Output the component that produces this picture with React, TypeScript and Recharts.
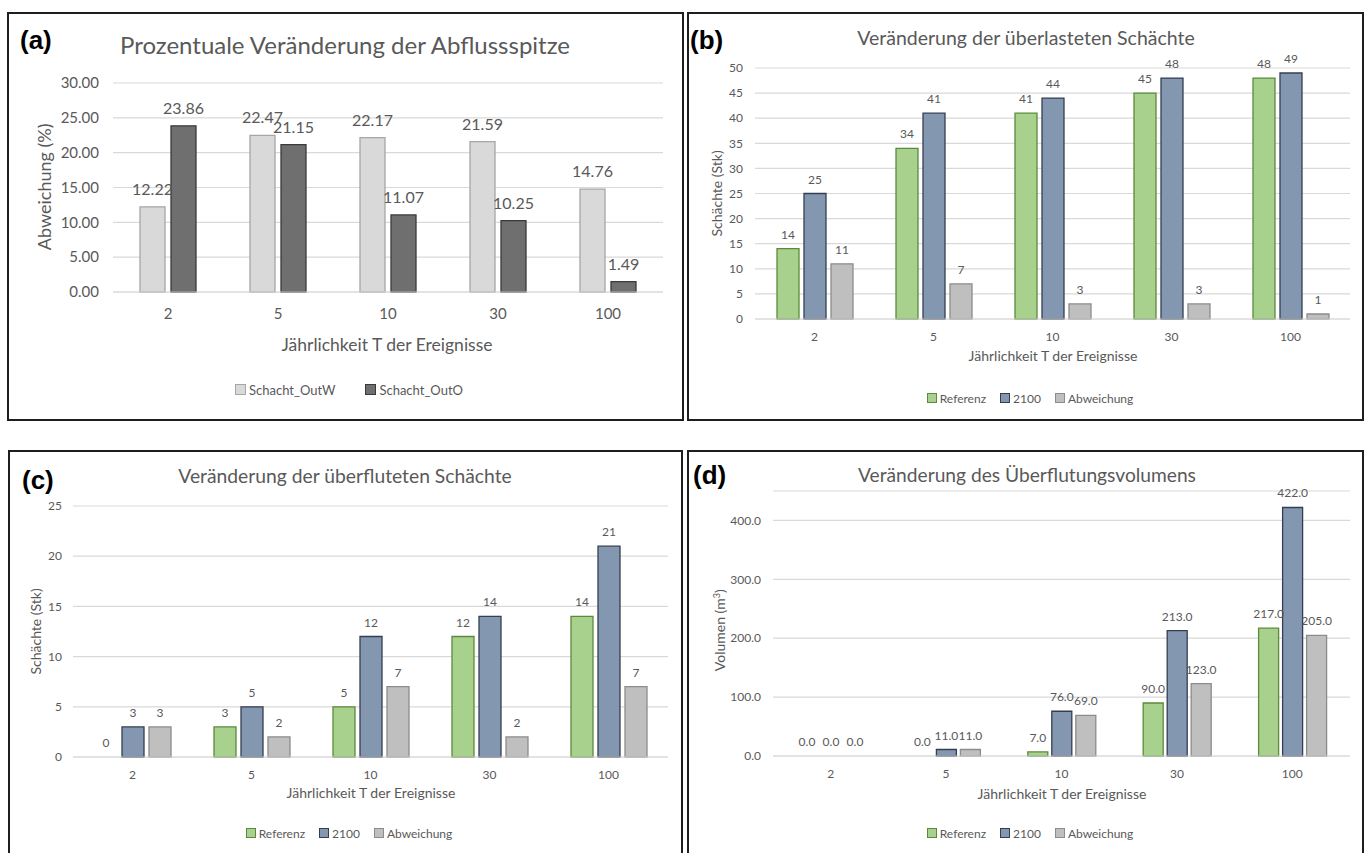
import type { ReactNode } from 'react'
import { BarChart, Bar, XAxis, YAxis, CartesianGrid, LabelList, Rectangle } from 'recharts'

// Jährlichkeit T der Ereignisse (categories shared by all four panels)
const jaehrlichkeit = ['2', '5', '10', '30', '100']

// (a) Prozentuale Veränderung der Abflussspitze
const outW = [12.22, 22.47, 22.17, 21.59, 14.76]
const outO = [23.86, 21.15, 11.07, 10.25, 1.49]
const ticksA = [0, 5, 10, 15, 20, 25, 30]

// (b) überlastete Schächte
const ueberlastetRef = [14, 34, 41, 45, 48]
const ueberlastet2100 = [25, 41, 44, 48, 49]
const ueberlastetDiff = [11, 7, 3, 3, 1]
const ticksB = [0, 5, 10, 15, 20, 25, 30, 35, 40, 45, 50]

// (c) überflutete Schächte
const ueberflutetRef = [0, 3, 5, 12, 14]
const ueberflutet2100 = [3, 5, 12, 14, 21]
const ueberflutetDiff = [3, 2, 7, 2, 7]
const ticksC = [0, 5, 10, 15, 20, 25]

// (d) Überflutungsvolumen in m³
const volumenRef = [0, 0, 7, 90, 217]
const volumen2100 = [0, 11, 76, 213, 422]
const volumenDiff = [0, 11, 69, 123, 205]
const ticksD = [0, 100, 200, 300, 400]

const TEXT = '#595959'
const GRID = '#d9d9d9'
const FONT = 'Lato, "Open Sans", sans-serif'

interface Series {
  name: string
  values: number[]
  fill: string
  stroke: string
}

const green = { fill: '#a9d18e', stroke: '#5b8a3a' }
const blue = { fill: '#8497b0', stroke: '#333f50' }
const grey = { fill: '#bfbfbf', stroke: '#8c8c8c' }

interface PanelProps {
  letter: string
  letterX: number
  letterY: number
  title: string
  titleSize: number
  titleX: number
  titleY: number
  yTitle: ReactNode
  yTitleX: number
  yTitleY: number
  yTitleSize: number
  xTitleX: number
  xTitleY: number
  xTitleSize: number
  legendX: number
  legendY: number
  legendSize: number
  legendSquare: number
  legendGap: number
  box: { x: number; y: number; w: number; h: number }
  plot: { l: number; r: number; t: number; b: number }
  series: Series[]
  domain: [number, number]
  ticks: number[]
  decimals: number
  barSize: number
  barGap: number
  tickSize: number
  yTickMargin: number
  xTickMargin: number
  labelSize: number
  labelOffset: number
}

// centred text line, placed by its middle point
function Txt({ cx, cy, size, children }: { cx: number; cy: number; size: number; children: ReactNode }) {
  return (
    <div
      style={{
        position: 'absolute',
        left: cx - 400,
        top: cy - size * 0.6,
        width: 800,
        lineHeight: `${size * 1.2}px`,
        fontSize: size,
        textAlign: 'center',
        whiteSpace: 'nowrap',
        color: TEXT,
        fontFamily: FONT,
      }}
    >
      {children}
    </div>
  )
}

// zero values get a hair-thin bar so the "0" label still shows, but no visible rect
const hairline = (v: unknown) => (Number(v) === 0 ? 0.001 : 0)
const BarShape = (props: any) => (props.height > 0.5 ? <Rectangle {...props} /> : <g />)

function Panel(p: PanelProps) {
  const yAxisWidth = 50
  const xAxisHeight = 30
  const data = jaehrlichkeit.map((cat, i) => {
    const row: Record<string, string | number> = { cat }
    p.series.forEach((s, k) => { row['s' + k] = s.values[i] })
    return row
  })
  const fmt = (v: unknown) => Number(v).toFixed(p.decimals)

  return (
    <>
      <div style={{ position: 'absolute', left: p.box.x, top: p.box.y }}>
        <BarChart
          width={p.box.w}
          height={p.box.h}
          data={data}
          barSize={p.barSize}
          barGap={p.barGap}
          margin={{
            left: p.plot.l - p.box.x - yAxisWidth,
            right: p.box.x + p.box.w - p.plot.r,
            top: p.plot.t - p.box.y,
            bottom: p.box.y + p.box.h - p.plot.b - xAxisHeight,
          }}
        >
          <CartesianGrid vertical={false} stroke={GRID} strokeWidth={1.2} />
          <XAxis
            dataKey="cat"
            height={xAxisHeight}
            tickLine={false}
            axisLine={{ stroke: GRID, strokeWidth: 1.2 }}
            tick={{ fill: TEXT, fontSize: p.tickSize }}
            tickMargin={p.xTickMargin}
          />
          <YAxis
            width={yAxisWidth}
            domain={p.domain}
            ticks={p.ticks}
            interval={0}
            tickLine={false}
            axisLine={false}
            tick={{ fill: TEXT, fontSize: p.tickSize }}
            tickMargin={p.yTickMargin}
            tickFormatter={fmt}
          />
          {p.series.map((s, k) => (
            <Bar
              key={s.name}
              dataKey={'s' + k}
              name={s.name}
              fill={s.fill}
              stroke={s.stroke}
              strokeWidth={1.3}
              minPointSize={hairline}
              shape={BarShape}
              isAnimationActive={false}
            >
              <LabelList
                dataKey={'s' + k}
                position="top"
                offset={p.labelOffset}
                fill={TEXT}
                fontSize={p.labelSize}
                formatter={fmt}
              />
            </Bar>
          ))}
        </BarChart>
      </div>

      {/* panel letter */}
      <div
        style={{
          position: 'absolute',
          left: p.letterX,
          top: p.letterY - 15,
          lineHeight: '30px',
          fontSize: 26,
          fontWeight: 'bold',
          fontFamily: '"Liberation Sans", Arial, sans-serif',
          color: '#000',
        }}
      >
        {p.letter}
      </div>

      <Txt cx={p.titleX} cy={p.titleY} size={p.titleSize}>{p.title}</Txt>
      <Txt cx={p.xTitleX} cy={p.xTitleY} size={p.xTitleSize}>Jährlichkeit T der Ereignisse</Txt>

      <div
        style={{
          position: 'absolute',
          left: p.yTitleX - 200,
          top: p.yTitleY - p.yTitleSize * 0.6,
          width: 400,
          lineHeight: `${p.yTitleSize * 1.2}px`,
          fontSize: p.yTitleSize,
          textAlign: 'center',
          color: TEXT,
          fontFamily: FONT,
          transform: 'rotate(-90deg)',
          whiteSpace: 'nowrap',
        }}
      >
        {p.yTitle}
      </div>

      {/* legend */}
      <div
        style={{
          position: 'absolute',
          left: p.legendX - 400,
          top: p.legendY - p.legendSize * 0.6,
          width: 800,
          height: p.legendSize * 1.2,
          display: 'flex',
          justifyContent: 'center',
          alignItems: 'center',
          gap: p.legendGap,
          fontSize: p.legendSize,
          fontFamily: FONT,
          color: TEXT,
        }}
      >
        {p.series.map(s => (
          <div key={s.name} style={{ display: 'flex', alignItems: 'center', gap: 3 }}>
            <span
              style={{
                display: 'inline-block',
                width: p.legendSquare,
                height: p.legendSquare,
                background: s.fill,
                border: `1px solid ${s.stroke}`,
              }}
            />
            <span>{s.name}</span>
          </div>
        ))}
      </div>

      {/* frame */}
      <div
        style={{
          position: 'absolute',
          left: p.box.x,
          top: p.box.y,
          width: p.box.w,
          height: p.box.h,
          boxSizing: 'border-box',
          border: '2px solid #1e1e1e',
          pointerEvents: 'none',
        }}
      />
    </>
  )
}

export default function App() {
  return (
    <div
      style={{
        position: 'absolute',
        left: 0,
        top: 0,
        width: 1369,
        height: 853,
        overflow: 'hidden',
        background: '#fff',
        fontFamily: FONT,
      }}
    >
      <Panel
        letter="(a)" letterX={20} letterY={40}
        title="Prozentuale Veränderung der Abflussspitze" titleSize={24} titleX={345} titleY={45}
        yTitle="Abweichung (%)" yTitleX={45} yTitleY={187} yTitleSize={18}
        xTitleX={387} xTitleY={344} xTitleSize={17.5}
        legendX={349} legendY={390} legendSize={13} legendSquare={9} legendGap={30}
        box={{ x: 7, y: 12, w: 677, h: 409 }}
        plot={{ l: 113, r: 663, t: 83, b: 292 }}
        series={[
          { name: 'Schacht_OutW', values: outW, fill: '#d9d9d9', stroke: '#a6a6a6' },
          { name: 'Schacht_OutO', values: outO, fill: '#6f6f6f', stroke: '#3a3a3a' },
        ]}
        domain={[0, 30]} ticks={ticksA} decimals={2}
        barSize={25} barGap={6}
        tickSize={15} yTickMargin={8} xTickMargin={10}
        labelSize={16} labelOffset={12}
      />
      <Panel
        letter="(b)" letterX={690} letterY={40}
        title="Veränderung der überlasteten Schächte" titleSize={19.5} titleX={1026} titleY={38}
        yTitle="Schächte (Stk)" yTitleX={717} yTitleY={193} yTitleSize={14}
        xTitleX={1053} xTitleY={356} xTitleSize={14}
        legendX={1030} legendY={398} legendSize={12} legendSquare={8} legendGap={14}
        box={{ x: 687, y: 12, w: 677, h: 409 }}
        plot={{ l: 755, r: 1350, t: 68, b: 319 }}
        series={[
          { name: 'Referenz', values: ueberlastetRef, ...green },
          { name: '2100', values: ueberlastet2100, ...blue },
          { name: 'Abweichung', values: ueberlastetDiff, ...grey },
        ]}
        domain={[0, 50]} ticks={ticksB} decimals={0}
        barSize={22} barGap={5}
        tickSize={12} yTickMargin={6} xTickMargin={7}
        labelSize={12} labelOffset={10}
      />
      <Panel
        letter="(c)" letterX={22} letterY={480}
        title="Veränderung der überfluteten Schächte" titleSize={19.3} titleX={345} titleY={476}
        yTitle="Schächte (Stk)" yTitleX={36} yTitleY={631} yTitleSize={14}
        xTitleX={371} xTitleY={793} xTitleSize={14}
        legendX={349} legendY={833} legendSize={12} legendSquare={8} legendGap={14}
        box={{ x: 8, y: 450, w: 675, h: 410 }}
        plot={{ l: 73, r: 668, t: 506, b: 757 }}
        series={[
          { name: 'Referenz', values: ueberflutetRef, ...green },
          { name: '2100', values: ueberflutet2100, ...blue },
          { name: 'Abweichung', values: ueberflutetDiff, ...grey },
        ]}
        domain={[0, 25]} ticks={ticksC} decimals={0}
        barSize={22} barGap={5}
        tickSize={12} yTickMargin={5} xTickMargin={7}
        labelSize={12} labelOffset={10}
      />
      <Panel
        letter="(d)" letterX={693} letterY={475}
        title="Veränderung des Überflutungsvolumens" titleSize={19.2} titleX={1027} titleY={475}
        yTitle={<>Volumen (m<sup style={{ fontSize: '0.65em' }}>3</sup>)</>} yTitleX={719} yTitleY={628} yTitleSize={14}
        xTitleX={1062} xTitleY={794} xTitleSize={14}
        legendX={1030} legendY={833} legendSize={12} legendSquare={8} legendGap={14}
        box={{ x: 687, y: 450, w: 677, h: 410 }}
        plot={{ l: 773, r: 1350, t: 491, b: 756 }}
        series={[
          { name: 'Referenz', values: volumenRef, ...green },
          { name: '2100', values: volumen2100, ...blue },
          { name: 'Abweichung', values: volumenDiff, ...grey },
        ]}
        domain={[0, 450]} ticks={ticksD} decimals={1}
        barSize={20} barGap={4}
        tickSize={12} yTickMargin={6} xTickMargin={7}
        labelSize={12} labelOffset={10}
      />
    </div>
  )
}
